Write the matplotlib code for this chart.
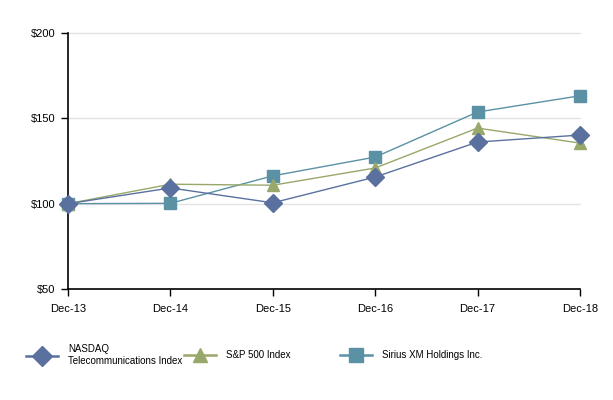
import numpy as np
import matplotlib.pyplot as plt
from matplotlib.lines import Line2D

plt.rcParams['font.family'] = ['Liberation Sans', 'DejaVu Sans']

years = ["Dec-13", "Dec-14", "Dec-15", "Dec-16", "Dec-17", "Dec-18"]
nasdaq = [100, 109.2, 100.5, 115.6, 136.1, 140.2]
sp500 = [100, 111.4, 110.8, 120.9, 144.3, 135.5]
sirius = [100, 100.2, 116.3, 127.3, 153.7, 163.2]
labels = ["NASDAQ\nTelecommunications Index", "S&P 500 Index", "Sirius XM Holdings Inc."]

c_nas = "#5a71a0"
c_sp = "#98a86a"
c_sir = "#5b91a4"

fig = plt.figure(figsize=(6.13, 4.0), dpi=100)
ax = fig.add_axes([0.111, 0.2775, 0.835, 0.64])

x = np.arange(len(years))
ax.plot(x, sirius, color=c_sir, lw=1, marker="s", ms=9, zorder=3)
ax.plot(x, sp500, color=c_sp, lw=1, marker="^", ms=9, zorder=4)
ax.plot(x, nasdaq, color=c_nas, lw=1, marker="D", ms=9, zorder=5)

ax.set_xlim(0, len(years) - 1)
ax.set_ylim(50, 200)
ax.set_yticks([50, 100, 150, 200])
ax.set_yticklabels(["$50", "$100", "$150", "$200"])
ax.set_xticks(x)
ax.set_xticklabels(years)
for v in [100, 150, 200]:
    ax.axhline(v, color="#e3e3e3", lw=1, zorder=0)
for s in ["top", "right"]:
    ax.spines[s].set_visible(False)
ax.spines["left"].set_linewidth(1.2)
ax.spines["bottom"].set_linewidth(1.2)
ax.tick_params(labelsize=8, length=5, width=1, pad=4)
ax.tick_params(axis="x", pad=6)
for ln in ax.lines:
    ln.set_clip_on(False)

handles = [
    Line2D([], [], color=c_nas, lw=1.8, marker="D", ms=10),
    Line2D([], [], color=c_sp, lw=1.8, marker="^", ms=10),
    Line2D([], [], color=c_sir, lw=1.8, marker="s", ms=10),
]
xpos = [0.043, 0.30, 0.555]
for h, l, xp in zip(handles, labels, xpos):
    fig.legend([h], [l], loc="center left", bbox_to_anchor=(xp, 0.1125),
               frameon=False, fontsize=7, handlelength=3.3, handletextpad=1.0,
               borderaxespad=0, borderpad=0, labelspacing=0.1)

fig.savefig("out.png", dpi=100)
